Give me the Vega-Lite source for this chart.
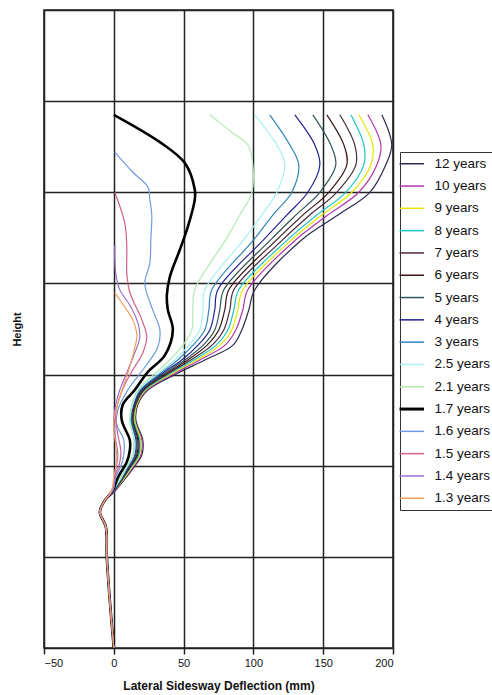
{
"$schema": "https://vega.github.io/schema/vega-lite/v6.json",
"width": 349, "height": 638,
"autosize": {"type": "none"},
"padding": {"left": 44, "top": 10, "right": 99, "bottom": 47},
"background": "white",
"config": {"view": {"stroke": "#222", "strokeWidth": 1.6}, "font": "Liberation Sans"},
"data": {"values": [
{"s":"12 years","h":5.85,"x":192.0},{"s":"12 years","h":5.52,"x":199.1},{"s":"12 years","h":5.30,"x":194.8},{"s":"12 years","h":5.00,"x":183.4},{"s":"12 years","h":4.75,"x":160.5},{"s":"12 years","h":4.48,"x":134.7},{"s":"12 years","h":3.93,"x":101.0},{"s":"12 years","h":3.71,"x":96.7},{"s":"12 years","h":3.49,"x":91.7},{"s":"12 years","h":3.32,"x":85.2},{"s":"12 years","h":3.16,"x":65.2},{"s":"12 years","h":3.01,"x":45.1},{"s":"12 years","h":2.83,"x":24.4},{"s":"12 years","h":2.67,"x":17.2},{"s":"12 years","h":2.50,"x":15.8},{"s":"12 years","h":2.28,"x":20.8},{"s":"12 years","h":2.12,"x":20.1},{"s":"12 years","h":1.98,"x":14.3},{"s":"12 years","h":1.84,"x":7.2},{"s":"12 years","h":1.73,"x":1.4},{"s":"12 years","h":1.60,"x":-7.2},{"s":"12 years","h":1.49,"x":-10},{"s":"12 years","h":1.33,"x":-5.7},{"s":"12 years","h":1.0,"x":-5},{"s":"12 years","h":0.53,"x":-2.9},{"s":"12 years","h":0,"x":0},
{"s":"10 years","h":5.85,"x":182.0},{"s":"10 years","h":5.52,"x":191.3},{"s":"10 years","h":5.30,"x":188.4},{"s":"10 years","h":5.00,"x":175.5},{"s":"10 years","h":4.75,"x":153.3},{"s":"10 years","h":4.48,"x":130.4},{"s":"10 years","h":3.93,"x":96.0},{"s":"10 years","h":3.71,"x":92.4},{"s":"10 years","h":3.49,"x":87.4},{"s":"10 years","h":3.32,"x":79.5},{"s":"10 years","h":3.16,"x":61.6},{"s":"10 years","h":3.01,"x":43.0},{"s":"10 years","h":2.83,"x":23.6},{"s":"10 years","h":2.67,"x":16.5},{"s":"10 years","h":2.50,"x":15.0},{"s":"10 years","h":2.28,"x":20.1},{"s":"10 years","h":2.12,"x":19.3},{"s":"10 years","h":1.98,"x":13.6},{"s":"10 years","h":1.84,"x":6.4},{"s":"10 years","h":1.73,"x":1.4},{"s":"10 years","h":1.60,"x":-7.2},{"s":"10 years","h":1.49,"x":-10},{"s":"10 years","h":1.33,"x":-5.7},{"s":"10 years","h":1.0,"x":-5},{"s":"10 years","h":0.53,"x":-2.9},{"s":"10 years","h":0,"x":0},
{"s":"9 years","h":5.85,"x":175.5},{"s":"9 years","h":5.52,"x":185.5},{"s":"9 years","h":5.30,"x":184.1},{"s":"9 years","h":5.00,"x":170.5},{"s":"9 years","h":4.75,"x":149.0},{"s":"9 years","h":4.48,"x":127.5},{"s":"9 years","h":3.93,"x":92.4},{"s":"9 years","h":3.71,"x":88.8},{"s":"9 years","h":3.49,"x":84.5},{"s":"9 years","h":3.32,"x":75.9},{"s":"9 years","h":3.16,"x":59.5},{"s":"9 years","h":3.01,"x":41.5},{"s":"9 years","h":2.83,"x":22.9},{"s":"9 years","h":2.67,"x":16.5},{"s":"9 years","h":2.50,"x":15.0},{"s":"9 years","h":2.28,"x":19.3},{"s":"9 years","h":2.12,"x":18.6},{"s":"9 years","h":1.98,"x":12.9},{"s":"9 years","h":1.84,"x":6.4},{"s":"9 years","h":1.73,"x":0.7},{"s":"9 years","h":1.60,"x":-7.2},{"s":"9 years","h":1.49,"x":-10},{"s":"9 years","h":1.33,"x":-5.7},{"s":"9 years","h":1.0,"x":-5},{"s":"9 years","h":0.53,"x":-2.9},{"s":"9 years","h":0,"x":0},
{"s":"8 years","h":5.85,"x":169.8},{"s":"8 years","h":5.52,"x":179.1},{"s":"8 years","h":5.30,"x":179.1},{"s":"8 years","h":5.00,"x":166.2},{"s":"8 years","h":4.75,"x":145.4},{"s":"8 years","h":4.48,"x":124.6},{"s":"8 years","h":3.93,"x":89.5},{"s":"8 years","h":3.71,"x":86.0},{"s":"8 years","h":3.49,"x":81.7},{"s":"8 years","h":3.32,"x":73.1},{"s":"8 years","h":3.16,"x":57.3},{"s":"8 years","h":3.01,"x":40.1},{"s":"8 years","h":2.83,"x":22.2},{"s":"8 years","h":2.67,"x":15.8},{"s":"8 years","h":2.50,"x":14.3},{"s":"8 years","h":2.28,"x":18.6},{"s":"8 years","h":2.12,"x":17.9},{"s":"8 years","h":1.98,"x":12.2},{"s":"8 years","h":1.84,"x":5.7},{"s":"8 years","h":1.73,"x":0.7},{"s":"8 years","h":1.60,"x":-7.2},{"s":"8 years","h":1.49,"x":-10},{"s":"8 years","h":1.33,"x":-5.7},{"s":"8 years","h":1.0,"x":-5},{"s":"8 years","h":0.53,"x":-2.9},{"s":"8 years","h":0,"x":0},
{"s":"7 years","h":5.85,"x":161.9},{"s":"7 years","h":5.52,"x":172.6},{"s":"7 years","h":5.30,"x":173.4},{"s":"7 years","h":5.00,"x":159.7},{"s":"7 years","h":4.75,"x":140.4},{"s":"7 years","h":4.48,"x":121.1},{"s":"7 years","h":3.93,"x":86.0},{"s":"7 years","h":3.71,"x":83.1},{"s":"7 years","h":3.49,"x":78.8},{"s":"7 years","h":3.32,"x":70.2},{"s":"7 years","h":3.16,"x":55.2},{"s":"7 years","h":3.01,"x":38.7},{"s":"7 years","h":2.83,"x":21.5},{"s":"7 years","h":2.67,"x":15.8},{"s":"7 years","h":2.50,"x":13.6},{"s":"7 years","h":2.28,"x":17.9},{"s":"7 years","h":2.12,"x":17.2},{"s":"7 years","h":1.98,"x":11.5},{"s":"7 years","h":1.84,"x":5.7},{"s":"7 years","h":1.73,"x":0.7},{"s":"7 years","h":1.60,"x":-7.2},{"s":"7 years","h":1.49,"x":-10},{"s":"7 years","h":1.33,"x":-5.7},{"s":"7 years","h":1.0,"x":-5},{"s":"7 years","h":0.53,"x":-2.9},{"s":"7 years","h":0,"x":0},
{"s":"6 years","h":5.85,"x":152.6},{"s":"6 years","h":5.52,"x":164.8},{"s":"6 years","h":5.30,"x":166.9},{"s":"6 years","h":5.00,"x":154.0},{"s":"6 years","h":4.75,"x":135.4},{"s":"6 years","h":4.48,"x":116.8},{"s":"6 years","h":3.93,"x":82.4},{"s":"6 years","h":3.71,"x":79.5},{"s":"6 years","h":3.49,"x":75.2},{"s":"6 years","h":3.32,"x":66.6},{"s":"6 years","h":3.16,"x":53.0},{"s":"6 years","h":3.01,"x":37.2},{"s":"6 years","h":2.83,"x":20.8},{"s":"6 years","h":2.67,"x":15.0},{"s":"6 years","h":2.50,"x":13.6},{"s":"6 years","h":2.28,"x":17.2},{"s":"6 years","h":2.12,"x":16.5},{"s":"6 years","h":1.98,"x":11.5},{"s":"6 years","h":1.84,"x":5.0},{"s":"6 years","h":1.73,"x":0},{"s":"6 years","h":1.60,"x":-7.2},{"s":"6 years","h":1.49,"x":-10},{"s":"6 years","h":1.33,"x":-5.7},{"s":"6 years","h":1.0,"x":-5},{"s":"6 years","h":0.53,"x":-2.9},{"s":"6 years","h":0,"x":0},
{"s":"5 years","h":5.85,"x":142.6},{"s":"5 years","h":5.52,"x":155.4},{"s":"5 years","h":5.30,"x":159.0},{"s":"5 years","h":5.00,"x":147.6},{"s":"5 years","h":4.75,"x":130.4},{"s":"5 years","h":4.48,"x":112.5},{"s":"5 years","h":3.93,"x":78.8},{"s":"5 years","h":3.71,"x":75.9},{"s":"5 years","h":3.49,"x":72.3},{"s":"5 years","h":3.32,"x":63.8},{"s":"5 years","h":3.16,"x":50.9},{"s":"5 years","h":3.01,"x":35.8},{"s":"5 years","h":2.83,"x":20.1},{"s":"5 years","h":2.67,"x":14.3},{"s":"5 years","h":2.50,"x":12.9},{"s":"5 years","h":2.28,"x":16.5},{"s":"5 years","h":2.12,"x":15.8},{"s":"5 years","h":1.98,"x":10.7},{"s":"5 years","h":1.84,"x":5.0},{"s":"5 years","h":1.73,"x":0},{"s":"5 years","h":1.60,"x":-7.2},{"s":"5 years","h":1.49,"x":-10},{"s":"5 years","h":1.33,"x":-5.7},{"s":"5 years","h":1.0,"x":-5},{"s":"5 years","h":0.53,"x":-2.9},{"s":"5 years","h":0,"x":0},
{"s":"4 years","h":5.85,"x":129.7},{"s":"4 years","h":5.52,"x":144.0},{"s":"4 years","h":5.30,"x":147.6},{"s":"4 years","h":5.00,"x":139.0},{"s":"4 years","h":4.75,"x":123.9},{"s":"4 years","h":4.48,"x":107.4},{"s":"4 years","h":3.93,"x":74.5},{"s":"4 years","h":3.71,"x":72.3},{"s":"4 years","h":3.49,"x":68.8},{"s":"4 years","h":3.32,"x":60.2},{"s":"4 years","h":3.16,"x":48.7},{"s":"4 years","h":3.01,"x":34.4},{"s":"4 years","h":2.83,"x":19.3},{"s":"4 years","h":2.67,"x":14.3},{"s":"4 years","h":2.50,"x":12.2},{"s":"4 years","h":2.28,"x":15.8},{"s":"4 years","h":2.12,"x":15.0},{"s":"4 years","h":1.98,"x":10.0},{"s":"4 years","h":1.84,"x":4.3},{"s":"4 years","h":1.73,"x":0},{"s":"4 years","h":1.60,"x":-7.2},{"s":"4 years","h":1.49,"x":-10},{"s":"4 years","h":1.33,"x":-5.7},{"s":"4 years","h":1.0,"x":-5},{"s":"4 years","h":0.53,"x":-2.9},{"s":"4 years","h":0,"x":0},
{"s":"3 years","h":5.85,"x":111.7},{"s":"3 years","h":5.52,"x":126.1},{"s":"3 years","h":5.30,"x":132.5},{"s":"3 years","h":5.00,"x":127.5},{"s":"3 years","h":4.75,"x":113.9},{"s":"3 years","h":4.48,"x":100.3},{"s":"3 years","h":3.93,"x":70.2},{"s":"3 years","h":3.71,"x":68.1},{"s":"3 years","h":3.49,"x":65.2},{"s":"3 years","h":3.32,"x":56.6},{"s":"3 years","h":3.16,"x":45.8},{"s":"3 years","h":3.01,"x":33.0},{"s":"3 years","h":2.83,"x":18.6},{"s":"3 years","h":2.67,"x":13.6},{"s":"3 years","h":2.50,"x":12.2},{"s":"3 years","h":2.28,"x":15.0},{"s":"3 years","h":2.12,"x":14.3},{"s":"3 years","h":1.98,"x":9.3},{"s":"3 years","h":1.84,"x":4.3},{"s":"3 years","h":1.73,"x":0},{"s":"3 years","h":1.60,"x":-7.2},{"s":"3 years","h":1.49,"x":-10},{"s":"3 years","h":1.33,"x":-5.7},{"s":"3 years","h":1.0,"x":-5},{"s":"3 years","h":0.53,"x":-2.9},{"s":"3 years","h":0,"x":0},
{"s":"2.5 years","h":5.85,"x":101.0},{"s":"2.5 years","h":5.52,"x":116.8},{"s":"2.5 years","h":5.30,"x":122.5},{"s":"2.5 years","h":5.00,"x":116.8},{"s":"2.5 years","h":4.75,"x":106.0},{"s":"2.5 years","h":4.48,"x":93.1},{"s":"2.5 years","h":3.93,"x":65.2},{"s":"2.5 years","h":3.71,"x":63.8},{"s":"2.5 years","h":3.49,"x":61.6},{"s":"2.5 years","h":3.32,"x":53.7},{"s":"2.5 years","h":3.16,"x":43.7},{"s":"2.5 years","h":3.01,"x":31.5},{"s":"2.5 years","h":2.83,"x":17.9},{"s":"2.5 years","h":2.67,"x":13.6},{"s":"2.5 years","h":2.50,"x":11.5},{"s":"2.5 years","h":2.28,"x":15.0},{"s":"2.5 years","h":2.12,"x":14.3},{"s":"2.5 years","h":1.98,"x":9.3},{"s":"2.5 years","h":1.84,"x":4.3},{"s":"2.5 years","h":1.73,"x":-0.7},{"s":"2.5 years","h":1.60,"x":-7.2},{"s":"2.5 years","h":1.49,"x":-10},{"s":"2.5 years","h":1.33,"x":-5.7},{"s":"2.5 years","h":1.0,"x":-5},{"s":"2.5 years","h":0.53,"x":-2.9},{"s":"2.5 years","h":0,"x":0},
{"s":"2.1 years","h":5.85,"x":68.8},{"s":"2.1 years","h":5.65,"x":85.2},{"s":"2.1 years","h":5.52,"x":96.0},{"s":"2.1 years","h":5.30,"x":99.6},{"s":"2.1 years","h":5.00,"x":98.9},{"s":"2.1 years","h":4.75,"x":90.3},{"s":"2.1 years","h":4.48,"x":80.2},{"s":"2.1 years","h":3.93,"x":58.0},{"s":"2.1 years","h":3.71,"x":56.6},{"s":"2.1 years","h":3.49,"x":55.9},{"s":"2.1 years","h":3.32,"x":49.4},{"s":"2.1 years","h":3.16,"x":40.1},{"s":"2.1 years","h":3.01,"x":29.4},{"s":"2.1 years","h":2.83,"x":17.2},{"s":"2.1 years","h":2.67,"x":12.9},{"s":"2.1 years","h":2.50,"x":11.5},{"s":"2.1 years","h":2.28,"x":14.3},{"s":"2.1 years","h":2.12,"x":13.6},{"s":"2.1 years","h":1.98,"x":8.6},{"s":"2.1 years","h":1.84,"x":3.6},{"s":"2.1 years","h":1.73,"x":-0.7},{"s":"2.1 years","h":1.60,"x":-7.2},{"s":"2.1 years","h":1.49,"x":-10},{"s":"2.1 years","h":1.33,"x":-5.7},{"s":"2.1 years","h":1.0,"x":-5},{"s":"2.1 years","h":0.53,"x":-2.9},{"s":"2.1 years","h":0,"x":0},
{"s":"1.7 years","h":5.85,"x":0},{"s":"1.7 years","h":5.55,"x":33.0},{"s":"1.7 years","h":5.32,"x":50.9},{"s":"1.7 years","h":5.03,"x":58.0},{"s":"1.7 years","h":4.92,"x":58.0},{"s":"1.7 years","h":4.62,"x":53.0},{"s":"1.7 years","h":4.37,"x":47.3},{"s":"1.7 years","h":4.07,"x":40.1},{"s":"1.7 years","h":3.87,"x":38.0},{"s":"1.7 years","h":3.71,"x":38.7},{"s":"1.7 years","h":3.49,"x":42.3},{"s":"1.7 years","h":3.21,"x":36.5},{"s":"1.7 years","h":3.03,"x":24.4},{"s":"1.7 years","h":2.83,"x":15.0},{"s":"1.7 years","h":2.67,"x":6.4},{"s":"1.7 years","h":2.50,"x":5.7},{"s":"1.7 years","h":2.28,"x":11.5},{"s":"1.7 years","h":2.17,"x":11.5},{"s":"1.7 years","h":2.04,"x":9.3},{"s":"1.7 years","h":1.87,"x":2.9},{"s":"1.7 years","h":1.73,"x":-0.7},{"s":"1.7 years","h":1.60,"x":-7.2},{"s":"1.7 years","h":1.49,"x":-10},{"s":"1.7 years","h":1.33,"x":-5.7},{"s":"1.7 years","h":1.0,"x":-5},{"s":"1.7 years","h":0.53,"x":-2.9},{"s":"1.7 years","h":0,"x":0},
{"s":"1.6 years","h":5.44,"x":0.7},{"s":"1.6 years","h":5.22,"x":13.6},{"s":"1.6 years","h":5.06,"x":24.4},{"s":"1.6 years","h":4.92,"x":25.8},{"s":"1.6 years","h":4.75,"x":27.2},{"s":"1.6 years","h":4.48,"x":26.5},{"s":"1.6 years","h":4.22,"x":25.8},{"s":"1.6 years","h":4.00,"x":22.2},{"s":"1.6 years","h":3.71,"x":27.9},{"s":"1.6 years","h":3.49,"x":33.0},{"s":"1.6 years","h":3.30,"x":31.5},{"s":"1.6 years","h":3.08,"x":22.2},{"s":"1.6 years","h":2.83,"x":10.0},{"s":"1.6 years","h":2.61,"x":2.9},{"s":"1.6 years","h":2.45,"x":2.1},{"s":"1.6 years","h":2.28,"x":7.2},{"s":"1.6 years","h":2.06,"x":6.4},{"s":"1.6 years","h":1.87,"x":1.4},{"s":"1.6 years","h":1.73,"x":-0.7},{"s":"1.6 years","h":1.60,"x":-7.2},{"s":"1.6 years","h":1.49,"x":-10},{"s":"1.6 years","h":1.33,"x":-5.7},{"s":"1.6 years","h":1.0,"x":-5},{"s":"1.6 years","h":0.53,"x":-2.9},{"s":"1.6 years","h":0,"x":0},
{"s":"1.5 years","h":5.00,"x":0.7},{"s":"1.5 years","h":4.66,"x":7.9},{"s":"1.5 years","h":4.40,"x":9.3},{"s":"1.5 years","h":4.11,"x":9.3},{"s":"1.5 years","h":3.90,"x":11.5},{"s":"1.5 years","h":3.60,"x":20.1},{"s":"1.5 years","h":3.41,"x":23.6},{"s":"1.5 years","h":3.24,"x":20.8},{"s":"1.5 years","h":3.05,"x":13.6},{"s":"1.5 years","h":2.89,"x":7.9},{"s":"1.5 years","h":2.72,"x":3.6},{"s":"1.5 years","h":2.56,"x":1.4},{"s":"1.5 years","h":2.34,"x":2.9},{"s":"1.5 years","h":2.17,"x":5.0},{"s":"1.5 years","h":2.04,"x":4.3},{"s":"1.5 years","h":1.87,"x":0.7},{"s":"1.5 years","h":1.73,"x":-1.4},{"s":"1.5 years","h":1.60,"x":-7.2},{"s":"1.5 years","h":1.49,"x":-10},{"s":"1.5 years","h":1.33,"x":-5.7},{"s":"1.5 years","h":1.0,"x":-5},{"s":"1.5 years","h":0.53,"x":-2.9},{"s":"1.5 years","h":0,"x":0},
{"s":"1.4 years","h":4.42,"x":0.7},{"s":"1.4 years","h":4.11,"x":1.4},{"s":"1.4 years","h":3.93,"x":4.3},{"s":"1.4 years","h":3.76,"x":11.5},{"s":"1.4 years","h":3.57,"x":17.2},{"s":"1.4 years","h":3.41,"x":18.6},{"s":"1.4 years","h":3.21,"x":14.3},{"s":"1.4 years","h":3.02,"x":9.3},{"s":"1.4 years","h":2.83,"x":4.3},{"s":"1.4 years","h":2.67,"x":1.4},{"s":"1.4 years","h":2.50,"x":0},{"s":"1.4 years","h":2.28,"x":1.4},{"s":"1.4 years","h":2.12,"x":2.9},{"s":"1.4 years","h":1.95,"x":1.4},{"s":"1.4 years","h":1.73,"x":-0.7},{"s":"1.4 years","h":1.60,"x":-7.2},{"s":"1.4 years","h":1.49,"x":-10},{"s":"1.4 years","h":1.33,"x":-5.7},{"s":"1.4 years","h":1.0,"x":-5},{"s":"1.4 years","h":0.53,"x":-2.9},{"s":"1.4 years","h":0,"x":0},
{"s":"1.3 years","h":3.90,"x":0.7},{"s":"1.3 years","h":3.74,"x":7.9},{"s":"1.3 years","h":3.60,"x":13.6},{"s":"1.3 years","h":3.43,"x":16.5},{"s":"1.3 years","h":3.25,"x":14.3},{"s":"1.3 years","h":3.05,"x":10.7},{"s":"1.3 years","h":2.89,"x":7.2},{"s":"1.3 years","h":2.72,"x":3.6},{"s":"1.3 years","h":2.56,"x":0.7},{"s":"1.3 years","h":2.39,"x":0},{"s":"1.3 years","h":2.23,"x":1.4},{"s":"1.3 years","h":2.06,"x":2.1},{"s":"1.3 years","h":1.87,"x":0},{"s":"1.3 years","h":1.73,"x":-1.4},{"s":"1.3 years","h":1.60,"x":-7.2},{"s":"1.3 years","h":1.49,"x":-10},{"s":"1.3 years","h":1.33,"x":-5.7},{"s":"1.3 years","h":1.0,"x":-5},{"s":"1.3 years","h":0.53,"x":-2.9},{"s":"1.3 years","h":0,"x":0}
]},
"mark": {"type": "line", "interpolate": "catmull-rom"},
"encoding": {
"x": {"field": "x", "type": "quantitative", "scale": {"domain": [-50, 200], "nice": false, "zero": false},
 "axis": {"values": [-50, 0, 50, 100, 150, 200], "title": "Lateral Sidesway Deflection (mm)", "grid": true, "gridColor": "#222", "gridWidth": 1.5, "gridOpacity": 1, "domain": false, "tickColor": "#222", "tickSize": 6, "tickWidth": 1.5, "labelFontSize": 11, "labelColor": "#111", "labelPadding": 3, "titleFontSize": 12, "titleFontWeight": "bold", "titleColor": "#111", "titlePadding": 12}},
"y": {"field": "h", "type": "quantitative", "scale": {"domain": [0, 7], "nice": false, "zero": false},
 "axis": {"values": [0, 1, 2, 3, 4, 5, 6, 7], "title": "Height", "labels": false, "ticks": false, "domain": false, "grid": true, "gridColor": "#222", "gridWidth": 1.5, "gridOpacity": 1, "titleFontSize": 11, "titleFontWeight": "bold", "titleColor": "#111", "titlePadding": 22}},
"color": {"field": "s", "type": "nominal",
 "scale": {"domain": ["12 years", "10 years", "9 years", "8 years", "7 years", "6 years", "5 years", "4 years", "3 years", "2.5 years", "2.1 years", "1.7 years", "1.6 years", "1.5 years", "1.4 years", "1.3 years"],
  "range": ["#2a2a50", "#b035b0", "#e6e600", "#22c4c4", "#4a2a40", "#3a1515", "#2f5555", "#202090", "#2f86b8", "#a8f0f0", "#b4eab4", "#000000", "#6f9be0", "#d06090", "#9a70d0", "#f5a060"]},
 "legend": {"title": null, "orient": "none", "legendX": 356, "legendY": 142, "strokeColor": "#333", "fillColor": "white", "padding": 5, "symbolType": "stroke", "symbolSize": 600, "symbolStrokeWidth": 1.5, "labelFontSize": 13.5, "labelColor": "#111", "rowPadding": 7.3, "labelOffset": 16,
  "encode": {"symbols": {"update": {"strokeWidth": {"signal": "datum.value === '1.7 years' ? 3 : 1.5"}}}}}},
"order": {"field": "h", "type": "quantitative"},
"strokeWidth": {"condition": {"test": "datum.s === '1.7 years'", "value": 2.6}, "value": 1.2}
}
}
